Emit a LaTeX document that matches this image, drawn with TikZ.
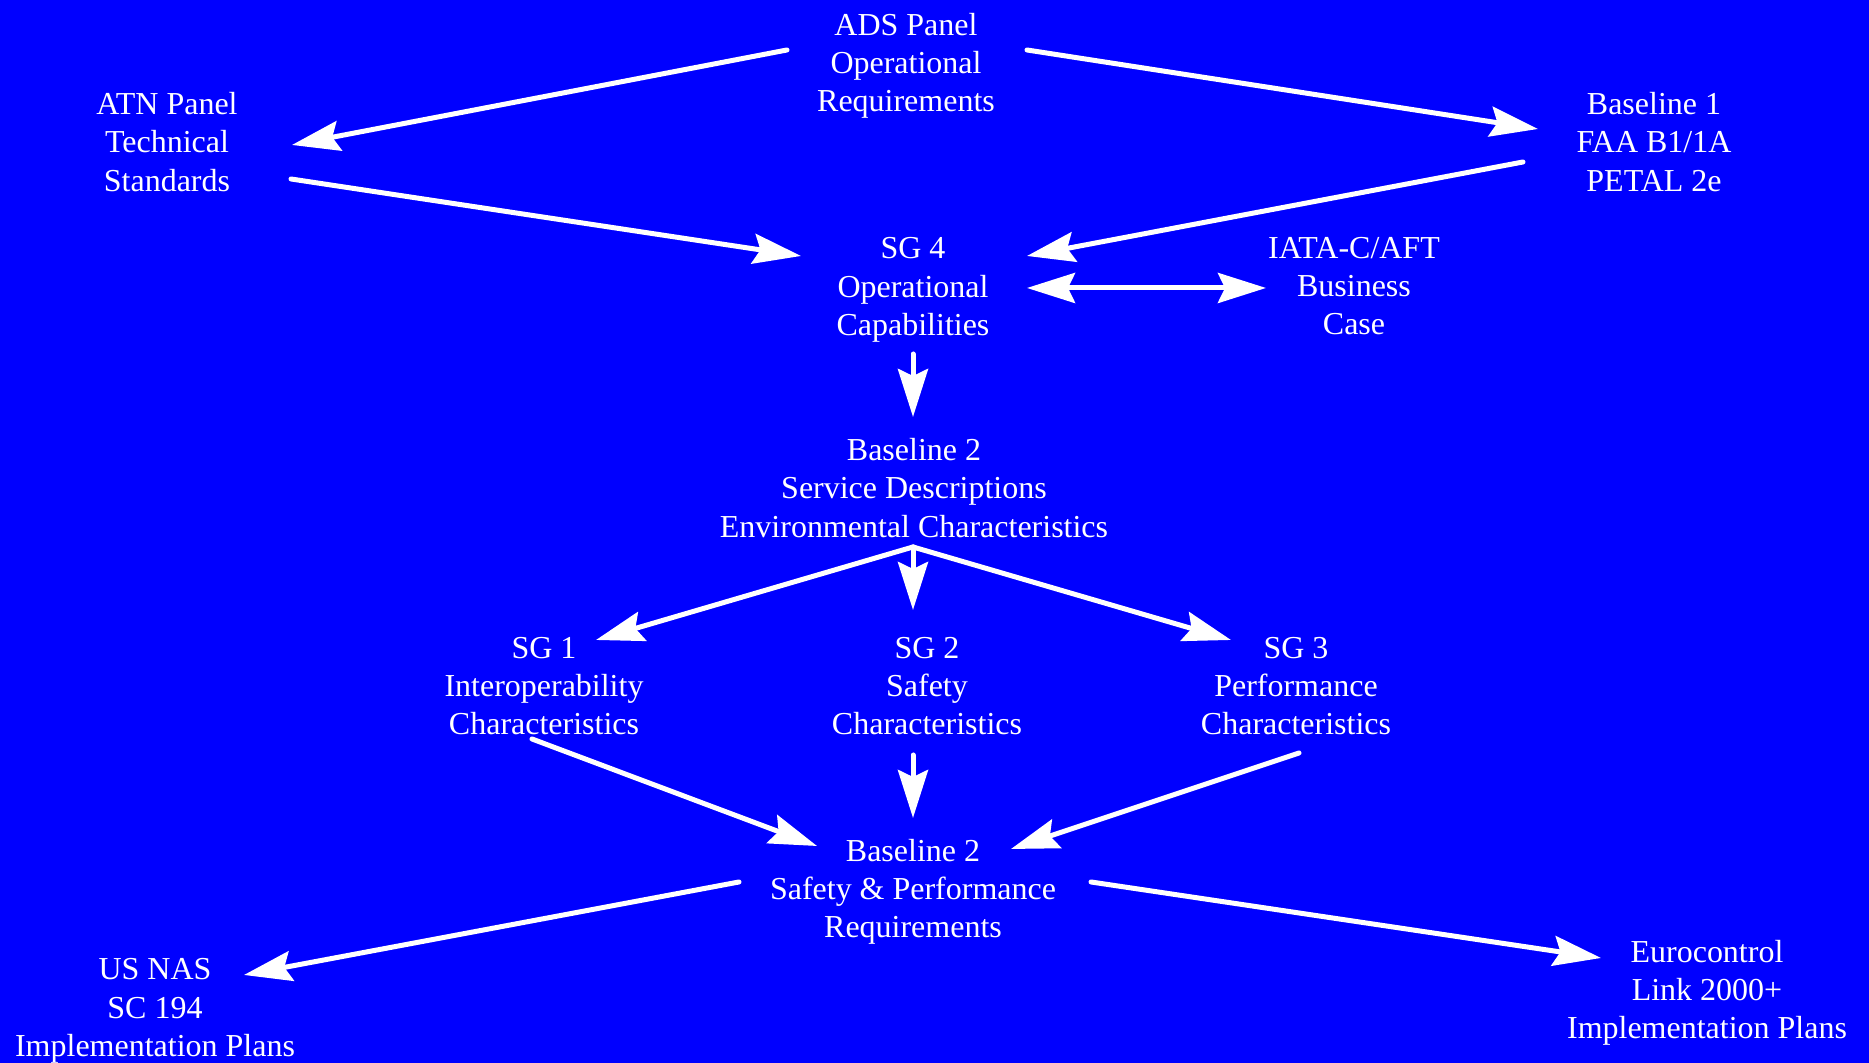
\documentclass[tikz,border=0pt]{standalone}
\usepackage{fontspec}
\setmainfont{Liberation Serif}
\usepackage{tkz-euclide}
\usetikzlibrary{arrows.meta}
\tikzset{>={Stealth[length=4.8mm,width=3mm,inset=0.7mm]}}
\tikzset{txt/.style={align=center, text=white, inner sep=0pt,
  font=\fontsize{9.1}{10.9}\selectfont}}

\begin{document}
\begin{tikzpicture}
    \useasboundingbox (0,0) rectangle (18.69,10.63);
    \fill[blue] (0,0) rectangle (18.69,10.63);
    % boxes of text
    \node[txt] (ads) at (9.06,9.97) {ADS Panel\\Operational\\Requirements};
    \node[txt] (atn) at (1.67,9.21) {ATN Panel\\Technical\\Standards};
    \node[txt] (bl1) at (16.54,9.21) {Baseline 1\\FAA B1/1A\\PETAL 2e};
    \node[txt] (sg4) at (9.13,7.73) {SG 4\\Operational\\Capabilities};
    \node[txt] (iata) at (13.54,7.77) {IATA-C/AFT\\Business\\Case};
    \node[txt] (bl2s) at (9.14,5.75) {Baseline 2\\Service Descriptions\\Environmental Characteristics};
    \node[txt] (sg1) at (5.44,3.77) {SG 1\\Interoperability\\Characteristics};
    \node[txt] (sg2) at (9.27,3.77) {SG 2\\Safety\\Characteristics};
    \node[txt] (sg3) at (12.96,3.77) {SG 3\\Performance\\Characteristics};
    \node[txt] (bl2r) at (9.13,1.71) {Baseline 2\\Safety \& Performance\\Requirements};
    \node[txt] (nas) at (1.55,0.52) {US NAS\\SC 194\\Implementation Plans};
    \node[txt] (euro) at (17.07,0.70) {Eurocontrol\\Link 2000+\\Implementation Plans};
    % ends of the arrows
    \tkzDefPoints{7.87/10.13/A, 2.92/9.18/B, 10.27/10.13/C, 15.38/9.34/D,
      2.91/8.84/E, 8.01/8.07/F, 15.23/9.01/G, 10.27/8.07/H,
      10.27/7.75/I, 12.66/7.75/J, 9.13/7.09/K, 9.13/6.46/L}
    \tkzDefPoints{9.13/5.16/M, 5.96/4.23/N, 9.13/4.53/O, 12.31/4.23/P,
      5.32/3.24/Q, 8.17/2.17/R, 9.13/3.08/S, 9.13/2.45/T,
      12.99/3.10/U, 10.11/2.14/V, 7.39/1.81/W, 2.44/0.88/X,
      10.91/1.81/Y, 16.01/1.05/Z}
    \tkzDrawSegments[->, white, line width=0.05cm](A,B C,D E,F G,H K,L M,N M,O M,P)
    \tkzDrawSegments[->, white, line width=0.05cm](Q,R S,T U,V W,X Y,Z)
    \tkzDrawSegment[<->, white, line width=0.05cm](I,J)
\end{tikzpicture}
\end{document}
